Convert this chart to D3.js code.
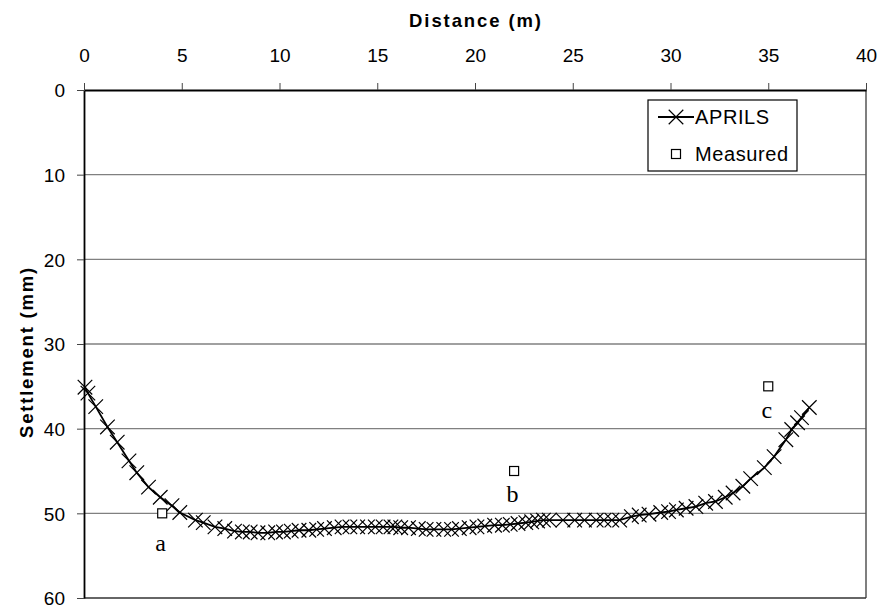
<!DOCTYPE html>
<html lang="en">
<head>
<meta charset="UTF-8">
<title>Settlement</title>
<script src="https://cdn.jsdelivr.net/npm/d3@7"></script>
<style>
  body { margin: 0; background: #fff; }
</style>
</head>
<body>
<script>
// APRILS prediction (distance m, settlement mm)
const aprilsX = [0.05,0.2,0.6,1.2,1.7,2.3,2.7,3.3,3.9,4.5,4.9,5.7,6.1,6.7,7.2,7.7,8.1,8.5,8.9,9.4,
  9.8,10.2,10.6,11.0,11.5,11.9,12.3,12.8,13.2,13.6,14.0,14.5,14.9,15.3,15.7,15.9,16.2,16.6,17.1,17.5,
  17.9,18.4,18.8,19.2,19.7,20.1,20.5,21.0,21.4,21.8,22.2,22.6,22.9,23.2,23.5,23.8,24.5,25.1,25.6,26.2,
  26.6,27.0,27.4,28.0,28.4,28.9,29.5,29.9,30.3,30.8,31.3,31.8,32.3,32.8,33.2,33.7,34.1,34.8,35.3,35.9,
  36.2,36.5,36.7,37.1];
const aprilsY = [35.1,35.8,37.4,39.8,41.6,43.8,45.2,46.9,48.1,49.1,49.9,50.8,51.1,51.6,51.8,52.1,52.2,52.2,52.3,52.3,
  52.2,52.2,52.1,52.0,52.0,51.9,51.8,51.7,51.6,51.6,51.6,51.6,51.6,51.6,51.6,51.6,51.7,51.7,51.8,51.9,
  51.9,51.9,51.9,51.8,51.7,51.6,51.5,51.4,51.4,51.3,51.2,51.1,51.0,50.9,50.8,50.8,50.8,50.8,50.8,50.8,
  50.8,50.8,50.8,50.4,50.2,50.1,49.9,49.8,49.6,49.4,49.2,48.8,48.6,48.1,47.6,46.8,45.9,44.6,43.3,41.3,
  40.1,39.3,38.7,37.5];
// Measured points
const measuredX = [4, 22, 35];
const measuredY = [50, 45, 35];
const measuredLabels = ["a", "b", "c"];

const xTicks = [0, 5, 10, 15, 20, 25, 30, 35, 40];
const yTicks = [0, 10, 20, 30, 40, 50, 60];

const W = 882, H = 609;
const plot = { l: 84, r: 866, t: 90, b: 598 };
const sans = "Liberation Sans, Arial, sans-serif";
const serif = "Liberation Serif, Times New Roman, serif";

const svg = d3.select("body").append("svg")
  .attr("width", W).attr("height", H)
  .attr("font-family", sans);

const x = d3.scaleLinear().domain([0, 40]).range([plot.l, plot.r]);
const y = d3.scaleLinear().domain([0, 60]).range([plot.t, plot.b]);

// gridlines
svg.append("g").selectAll("line")
  .data(yTicks.filter(d => d > 0 && d < 60))
  .join("line")
  .attr("x1", plot.l).attr("x2", plot.r)
  .attr("y1", d => y(d)).attr("y2", d => y(d))
  .attr("stroke", "#808080").attr("stroke-width", 1.4);

// right and bottom frame
svg.append("line").attr("x1", plot.r).attr("x2", plot.r).attr("y1", plot.t).attr("y2", plot.b)
  .attr("stroke", "#555").attr("stroke-width", 1.5);
svg.append("line").attr("x1", plot.l).attr("x2", plot.r).attr("y1", plot.b).attr("y2", plot.b)
  .attr("stroke", "#333").attr("stroke-width", 1.6);

// axes
const xAxis = svg.append("g")
  .attr("transform", `translate(0,${plot.t})`)
  .call(d3.axisTop(x).tickValues(xTicks).tickSize(7).tickPadding(21).tickSizeOuter(0));
const yAxis = svg.append("g")
  .attr("transform", `translate(${plot.l},0)`)
  .call(d3.axisLeft(y).tickValues(yTicks).tickSize(7).tickPadding(12).tickSizeOuter(0));
[xAxis, yAxis].forEach(a => {
  a.attr("font-family", sans).attr("font-size", 19);
  a.select(".domain").attr("stroke", "#000").attr("stroke-width", 1.8);
  a.selectAll(".tick line").attr("stroke", "#444");
  a.selectAll("text").attr("fill", "#000");
});
xAxis.selectAll("text").attr("dy", "0");
yAxis.selectAll("text").attr("dy", "0.36em");

// titles
svg.append("text").attr("x", (plot.l + plot.r) / 2 + 1).attr("y", 27)
  .attr("text-anchor", "middle").attr("font-size", 18.5).attr("font-weight", "bold")
  .attr("letter-spacing", 1.9)
  .text("Distance (m)");
svg.append("text").attr("transform", `translate(33,352) rotate(-90)`)
  .attr("text-anchor", "middle").attr("font-size", 18.5).attr("font-weight", "bold")
  .attr("letter-spacing", 1.8)
  .text("Settlement (mm)");

// APRILS line
const pts = aprilsX.map((d, i) => [d, aprilsY[i]]);
svg.append("path")
  .datum(pts)
  .attr("fill", "none").attr("stroke", "#000").attr("stroke-width", 1.8)
  .attr("d", d3.line().x(d => x(d[0])).y(d => y(d[1])));

const cross = d3.symbol().type(d3.symbolX).size(140);
svg.append("g").selectAll("path")
  .data(pts)
  .join("path")
  .attr("transform", d => `translate(${x(d[0])},${y(d[1])})`)
  .attr("d", cross)
  .attr("fill", "none").attr("stroke", "#000").attr("stroke-width", 1.2);

// measured points
const labelDy = [38, 31, 32];
const meas = measuredX.map((d, i) => [d, measuredY[i], measuredLabels[i]]);
svg.append("g").selectAll("rect")
  .data(meas)
  .join("rect")
  .attr("x", d => x(d[0]) - 4.5).attr("y", d => y(d[1]) - 4.5)
  .attr("width", 9).attr("height", 9)
  .attr("fill", "#fff").attr("stroke", "#000").attr("stroke-width", 1.2);
svg.append("g").selectAll("text")
  .data(meas)
  .join("text")
  .attr("x", d => x(d[0]) - 1.5).attr("y", (d, i) => y(d[1]) + labelDy[i])
  .attr("text-anchor", "middle")
  .attr("font-family", serif)
  .attr("font-size", 24)
  .text(d => d[2]);

// legend
const lg = svg.append("g");
lg.append("rect").attr("x", 648).attr("y", 100).attr("width", 149).attr("height", 71)
  .attr("fill", "#fff").attr("stroke", "#000").attr("stroke-width", 1.2);
lg.append("line").attr("x1", 658).attr("x2", 694).attr("y1", 117).attr("y2", 117)
  .attr("stroke", "#000").attr("stroke-width", 1.8);
lg.append("path").attr("transform", "translate(676,117)").attr("d", cross)
  .attr("fill", "none").attr("stroke", "#000").attr("stroke-width", 1.2);
lg.append("text").attr("x", 695).attr("y", 124).attr("font-size", 20)
  .attr("letter-spacing", 0.6).text("APRILS");
lg.append("rect").attr("x", 676 - 4.5).attr("y", 154 - 4.5).attr("width", 9).attr("height", 9)
  .attr("fill", "#fff").attr("stroke", "#000").attr("stroke-width", 1.2);
lg.append("text").attr("x", 695).attr("y", 161).attr("font-size", 20)
  .attr("letter-spacing", 0.6).text("Measured");
</script>
</body>
</html>
